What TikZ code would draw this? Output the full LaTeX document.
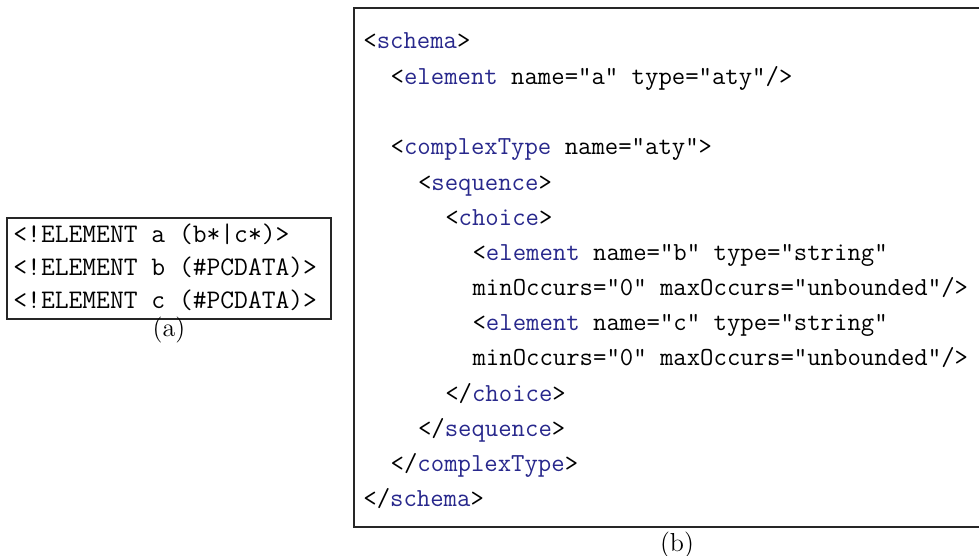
\documentclass[tikz,border=0pt]{standalone}
\usepackage{xcolor}
\definecolor{tagblue}{RGB}{40,40,140}
\tikzset{
  codeline/.style={anchor=base west, inner sep=0pt, font=\fontsize{13}{15.6}\selectfont\ttfamily},
  dtdline/.style={anchor=base west, inner sep=0pt, font=\fontsize{13.4}{16}\selectfont\ttfamily},
  caption/.style={anchor=center, inner sep=0pt, font=\fontsize{13}{15.6}\selectfont\rmfamily},
  frame/.style={draw=black!85, line width=0.6pt}
}
\newcommand{\tg}[1]{\textcolor{tagblue}{#1}}
\begin{document}
\begin{tikzpicture}[x=0.5pt, y=-0.5pt]
  \useasboundingbox (0,0) rectangle (979,556);
  \clip (0,0) rectangle (979,556);

  % DTD box
  \coordinate (dtdnw) at (7,218);
  \coordinate (dtdse) at (331,319);
  \draw[frame] (dtdnw) rectangle (dtdse);
  \node[dtdline] (d1) at (13,242) {<!ELEMENT a (b*|c*)>};
  \node[dtdline] (d2) at (13,275) {<!ELEMENT b (\#PCDATA)>};
  \node[dtdline] (d3) at (13,308) {<!ELEMENT c (\#PCDATA)>};
  \node[caption] (capa) at (169,330) {(a)};

  % XML Schema box (right side runs past the edge)
  \coordinate (xsdnw) at (354,8);
  \coordinate (xsdse) at (1000,527);
  \draw[frame] (xsdnw) rectangle (xsdse);
  \def\cw{13.65}
  \node[codeline] (s1)  at (363+0*\cw, 49)  {<\tg{schema}>};
  \node[codeline] (s2)  at (363+2*\cw, 85)  {<\tg{element} name="a" type="aty"/>};
  \node[codeline] (s3)  at (363+2*\cw, 155) {<\tg{complexType} name="aty">};
  \node[codeline] (s4)  at (363+4*\cw, 190) {<\tg{sequence}>};
  \node[codeline] (s5)  at (363+6*\cw, 225) {<\tg{choice}>};
  \node[codeline] (s6)  at (363+8*\cw, 260) {<\tg{element} name="b" type="string"};
  \node[codeline] (s7)  at (363+8*\cw, 295) {minOccurs="0" maxOccurs="unbounded"/>};
  \node[codeline] (s8)  at (363+8*\cw, 330) {<\tg{element} name="c" type="string"};
  \node[codeline] (s9)  at (363+8*\cw, 365) {minOccurs="0" maxOccurs="unbounded"/>};
  \node[codeline] (s10) at (363+6*\cw, 401) {</\tg{choice}>};
  \node[codeline] (s11) at (363+4*\cw, 436) {</\tg{sequence}>};
  \node[codeline] (s12) at (363+2*\cw, 471) {</\tg{complexType}>};
  \node[codeline] (s13) at (363+0*\cw, 506) {</\tg{schema}>};
  \node[caption] (capb) at (677,545) {(b)};
\end{tikzpicture}
\end{document}
